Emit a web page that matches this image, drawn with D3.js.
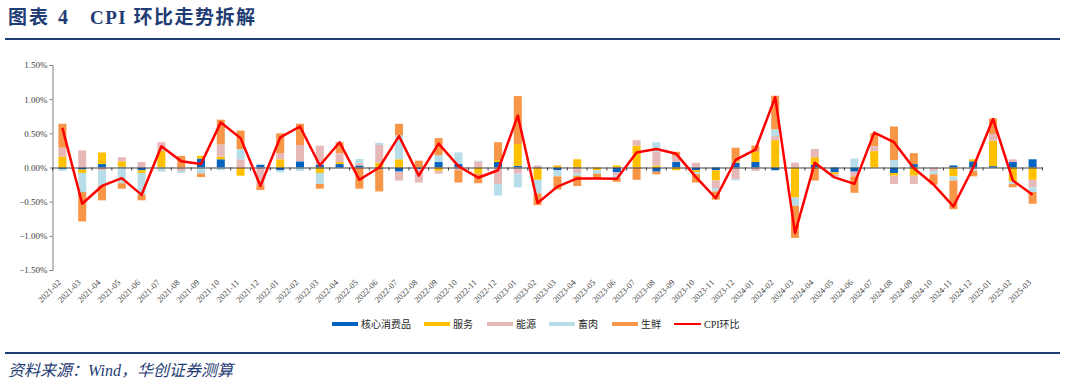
<!DOCTYPE html>
<html><head><meta charset="utf-8">
<script src="https://cdn.jsdelivr.net/npm/d3@7"></script>
<style>
html,body{margin:0;padding:0;background:#fff;}
svg{display:block;}
</style></head>
<body>
<svg id="chart" width="1066" height="384"></svg>
<script>
const months = ["2021-02","2021-03","2021-04","2021-05","2021-06","2021-07","2021-08","2021-09","2021-10","2021-11","2021-12",
"2022-01","2022-02","2022-03","2022-04","2022-05","2022-06","2022-07","2022-08","2022-09","2022-10","2022-11","2022-12",
"2023-01","2023-02","2023-03","2023-04","2023-05","2023-06","2023-07","2023-08","2023-09","2023-10","2023-11","2023-12",
"2024-01","2024-02","2024-03","2024-04","2024-05","2024-06","2024-07","2024-08","2024-09","2024-10","2024-11","2024-12",
"2025-01","2025-02","2025-03"];

const core = [-0.02,-0.03,0.05,0.01,-0.04,0,0,0.13,0.12,0,0.04,-0.04,0.09,0.04,0.05,0.03,-0.02,-0.06,-0.02,0.08,0.05,0,0.08,0.025,-0.01,-0.04,-0.01,0,-0.07,0,-0.06,0.08,-0.04,-0.04,0.07,0.08,-0.04,0,0.04,-0.07,-0.06,0,-0.08,0.05,0,0.03,0.09,0.02,0.08,0.12];
const service = [0.16,-0.05,0.17,0.08,-0.04,0.24,0,0.04,0.04,-0.12,0,0.12,0,-0.08,0.03,0,0.07,0.12,0,-0.05,0,-0.09,0.03,0.32,-0.17,0.03,0.12,-0.04,0.03,0.32,0.03,-0.04,-0.03,-0.15,0.02,0.15,0.40,-0.44,0.11,-0.03,0,0.24,-0.04,-0.12,0,-0.13,0.03,0.37,-0.20,-0.18];
const energy = [0.13,0.25,-0.04,0.06,0.08,0.13,-0.05,0,0.18,0.12,-0.26,0.09,0.24,0.28,0.13,0.035,0.26,-0.13,-0.20,-0.04,-0.04,0.09,-0.24,-0.09,0.03,0,-0.07,0,-0.05,0.08,0.20,0.09,0.07,-0.11,-0.17,-0.05,0.06,0.07,0.12,-0.03,-0.07,0.06,-0.12,-0.12,-0.05,0,-0.02,0.10,0.04,-0.11];
const pork = [-0.03,-0.28,-0.23,-0.23,-0.32,-0.06,-0.03,-0.09,-0.04,0.15,0.015,-0.03,-0.05,-0.16,0,0.06,0.03,0.35,0,0.10,0.17,0.01,-0.17,-0.20,-0.20,-0.09,-0.04,-0.05,-0.03,0,0.14,0,-0.03,-0.05,-0.02,0,0.10,-0.12,0,-0.02,0.13,0.01,0.11,0,-0.05,-0.06,-0.03,0,-0.04,-0.07];
const fresh = [0.35,-0.43,-0.21,-0.08,-0.08,0,0.17,-0.05,0.36,0.27,-0.07,0.29,0.31,-0.07,0.16,-0.31,-0.33,0.17,0.10,0.25,-0.18,-0.14,0.26,0.70,-0.17,-0.19,-0.15,-0.07,-0.06,-0.18,-0.04,0.06,-0.12,-0.12,0.20,0.09,0.49,-0.47,-0.19,0,-0.24,0.19,0.49,0.16,-0.15,-0.42,-0.08,0.23,-0.05,-0.17];
const cpi = [0.58,-0.53,-0.27,-0.155,-0.40,0.31,0.09,0.05,0.66,0.43,-0.27,0.44,0.60,0.03,0.37,-0.18,0.0,0.46,-0.12,0.35,0.02,-0.15,-0.04,0.76,-0.52,-0.28,-0.16,-0.16,-0.165,0.22,0.27,0.20,-0.14,-0.45,0.11,0.26,1.03,-0.96,0.07,-0.145,-0.24,0.51,0.37,-0.01,-0.25,-0.57,0.0,0.71,-0.19,-0.40];

const seriesNames = ["核心消费品","服务","能源","畜肉","生鲜"];
const lineName = "CPI环比";
const yTicks = [1.5,1.0,0.5,0,-0.5,-1.0,-1.5];
const titleText = ["图表","4","CPI 环比走势拆解"];
const sourceText = "资料来源：Wind，华创证券测算";

const colors = ["#0563C1","#FFC000","#E6B9B8","#B7DEE8","#F79646"];
const lineColor = "#FF0000";
const navy = "#1F3C75";

const svg = d3.select("#chart");

// Title
const tg = svg.append("g").attr("font-weight","bold").attr("fill",navy);
tg.append("text").attr("x",8).attr("y",24).attr("font-family","'Noto Sans CJK SC'").attr("font-size",19).attr("letter-spacing",2).text(titleText[0]);
tg.append("text").attr("x",58).attr("y",24).attr("font-family","'Liberation Serif'").attr("font-size",20).text(titleText[1]);
tg.append("text").attr("x",90).attr("y",24).attr("font-family","'Liberation Serif','Noto Sans CJK SC'").attr("font-size",19).attr("letter-spacing",1.5).text(titleText[2]);
svg.append("rect").attr("x",5).attr("y",38).attr("width",1055).attr("height",2).attr("fill",navy);
svg.append("rect").attr("x",5).attr("y",352).attr("width",1055).attr("height",2).attr("fill",navy);
svg.append("text").attr("x",8).attr("y",376).attr("fill",navy).attr("font-family","'Liberation Serif','Noto Sans CJK SC'")
  .attr("font-style","italic").attr("font-size",16).text(sourceText);

// Scales
const x = d3.scaleBand().domain(months).range([52.5,1042.5]).padding(0);
const y = d3.scaleLinear().domain([-1.5,1.5]).range([270,65]);

// data table
const table = months.map((m,i)=>({month:m,"核心消费品":core[i],"服务":service[i],"能源":energy[i],"畜肉":pork[i],"生鲜":fresh[i]}));
const stack = d3.stack().keys(seriesNames).offset(d3.stackOffsetDiverging)(table);

const barW = 8;
const bars = svg.append("g");
stack.forEach((s,si)=>{
  bars.append("g").attr("fill",colors[si]).selectAll("rect").data(s).join("rect")
    .attr("x",d=>x(d.data.month)+x.bandwidth()/2-barW/2)
    .attr("width",barW)
    .attr("y",d=>y(Math.max(d[0],d[1])))
    .attr("height",d=>Math.abs(y(d[0])-y(d[1])));
});

// Y axis
const yAxis = d3.axisLeft(y).tickValues(yTicks).tickSize(3).tickFormat(d=>d3.format(".2f")(d)+"%");
const yg = svg.append("g").attr("transform","translate(52.5,0)").call(yAxis);
yg.select(".domain").attr("stroke","#7f7f7f");
yg.selectAll(".tick line").attr("stroke","#7f7f7f");
yg.selectAll(".tick text").attr("font-family","'Liberation Serif'").attr("font-size",9).attr("fill","#404040").attr("x",-5);

// X axis at zero
const xAxis = d3.axisBottom(x).tickSize(0).tickFormat("");
const xg = svg.append("g").attr("transform",`translate(0,${y(0)})`).call(xAxis);
xg.select(".domain").attr("stroke","#404040");
xg.selectAll(".bt").data(months.concat(["end"])).join("line")
  .attr("x1",(d,i)=>x.range()[0]+i*x.step()).attr("x2",(d,i)=>x.range()[0]+i*x.step())
  .attr("y1",0).attr("y2",3).attr("stroke","#404040");

// X labels
svg.append("g").selectAll("text").data(months).join("text")
  .attr("transform",d=>`translate(${x(d)+x.bandwidth()/2-3},281) rotate(-45)`)
  .attr("text-anchor","end").attr("dy","0.35em")
  .attr("font-family","'Liberation Serif'").attr("font-size",8.5).attr("fill","#404040")
  .text(d=>d);

// CPI line
const line = d3.line().x((d,i)=>x(months[i])+x.bandwidth()/2).y(d=>y(d));
svg.append("path").datum(cpi).attr("d",line).attr("fill","none").attr("stroke",lineColor).attr("stroke-width",2.5).attr("stroke-linejoin","round");

// Legend
const legX = [332,424,487,549,612];
const lg = svg.append("g");
seriesNames.forEach((n,i)=>{
  lg.append("rect").attr("x",legX[i]).attr("y",322).attr("width",26).attr("height",4).attr("fill",colors[i]);
  lg.append("text").attr("x",legX[i]+29).attr("y",324).attr("dy","0.35em").attr("font-family","'Noto Sans CJK SC'").attr("font-size",10).attr("fill","#262626").text(n);
});
lg.append("line").attr("x1",674).attr("x2",701).attr("y1",324).attr("y2",324).attr("stroke",lineColor).attr("stroke-width",2);
lg.append("text").attr("x",704).attr("y",324).attr("dy","0.35em").attr("font-family","'Liberation Serif','Noto Sans CJK SC'").attr("font-size",10).attr("fill","#262626").text(lineName);
</script>
</body></html>
